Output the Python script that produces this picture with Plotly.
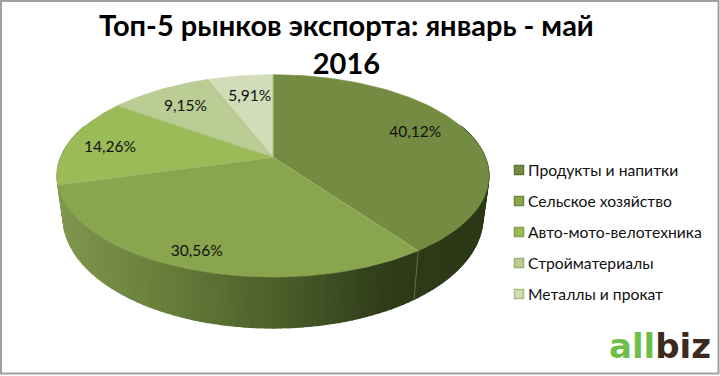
import math
import plotly.graph_objects as go

# ---- data ----
categories = ["Продукты и напитки", "Сельское хозяйство", "Авто-мото-велотехника", "Стройматериалы", "Металлы и прокат"]
values = [40.12, 30.56, 14.26, 9.15, 5.91]
value_labels = ["40,12%", "30,56%", "14,26%", "9,15%", "5,91%"]
title_text = "<b>Топ-5 рынков экспорта: январь - май<br>2016</b>"

# ---- style / layout ----
colors = ["#748c41", "#89a54e", "#9bbb59", "#bbcd95", "#d2dcb9"]
legend_edge = ["#5f7434", "#728a3f", "#84a048", "#9db571", "#a9bd80"]
label_nudge = [(6, -4), (-20, 21), (-20, 3), (-5, -1), (1, 0)]
CX, CY, A, B, K = 273, 157.3, 212.3, 97.75, 0.1834
BCY, BA, BB = 197, 206.4, 107
WALL_STOPS = [(60, (126, 150, 78)), (150, (106, 129, 60)), (280, (74, 94, 42)), (395, (46, 58, 24)), (490, (44, 55, 22))]
FONT = "Lato"


def top(theta, r=1.0):
    w = 1 + K * r * math.cos(theta)
    return CX + A * r * math.sin(theta) / w, CY - B * r * math.cos(theta) / w


def bot(theta):
    w = 1 + K * math.cos(theta)
    return CX + BA * math.sin(theta) / w, BCY - BB * math.cos(theta) / w


def wall_color(x):
    for (x0, c0), (x1, c1) in zip(WALL_STOPS, WALL_STOPS[1:]):
        if x <= x1:
            t = max(0.0, (x - x0) / (x1 - x0))
            return "rgb(%d,%d,%d)" % tuple(round(a + (b - a) * t) for a, b in zip(c0, c1))
    return "rgb(%d,%d,%d)" % WALL_STOPS[-1][1]


fig = go.Figure()
total = sum(values)
edges = [0.0]
for v in values:
    edges.append(edges[-1] + v / total * 2 * math.pi)

# side wall, as narrow quads shaded left-to-right
n = 130
start, end = math.radians(70), math.radians(290)
for i in range(n):
    t0 = start + (end - start) * i / n
    t1 = start + (end - start) * (i + 1) / n
    p0, p1, q1, q0 = top(t0), top(t1), bot(t1), bot(t0)
    c = wall_color((p0[0] + p1[0]) / 2)
    fig.add_trace(go.Scatter(x=[p0[0], p1[0], q1[0], q0[0], p0[0]], y=[p0[1], p1[1], q1[1], q0[1], p0[1]],
                             mode="lines", fill="toself", fillcolor=c, line=dict(color=c, width=1.2),
                             hoverinfo="skip", showlegend=False))

# seam on the wall between first two slices
s0, s1 = top(edges[1]), bot(edges[1])
fig.add_trace(go.Scatter(x=[s0[0], s1[0]], y=[s0[1], s1[1]], mode="lines",
                         line=dict(color="#5f7834", width=1), hoverinfo="skip", showlegend=False))

# top face slices
for i, name in enumerate(categories):
    steps = max(8, int((edges[i + 1] - edges[i]) / 0.02))
    pts = [(CX, CY)] + [top(edges[i] + (edges[i + 1] - edges[i]) * j / steps) for j in range(steps + 1)] + [(CX, CY)]
    fig.add_trace(go.Scatter(x=[p[0] for p in pts], y=[p[1] for p in pts], mode="lines", fill="toself",
                             fillcolor=colors[i], line=dict(color=colors[i], width=0.6), name=name,
                             hoverinfo="skip", showlegend=False))

# radial separators between slices
for e in edges[:-1]:
    p = top(e)
    fig.add_trace(go.Scatter(x=[CX, p[0]], y=[CY, p[1]], mode="lines",
                             line=dict(color="#a3ba72", width=0.7), hoverinfo="skip", showlegend=False))

# slice value labels
lx, ly = [], []
for i in range(len(values)):
    x, y = top((edges[i] + edges[i + 1]) / 2, 0.7)
    lx.append(x + label_nudge[i][0])
    ly.append(y + label_nudge[i][1])
fig.add_trace(go.Scatter(x=lx, y=ly, mode="text", text=value_labels, textposition="middle center",
                         textfont=dict(family=FONT, size=15.5, color="#111111"), hoverinfo="skip", showlegend=False))

# legend
LEG_X, LEG_Y, LEG_DY = 519, 170, 31
fig.add_trace(go.Scatter(x=[LEG_X] * 5, y=[LEG_Y + LEG_DY * i for i in range(5)], mode="markers",
                         marker=dict(symbol="square", size=9, color=colors, line=dict(color=legend_edge, width=1.5)),
                         hoverinfo="skip", showlegend=False))
annotations = [dict(x=525.5, y=LEG_Y + LEG_DY * i, text=c, showarrow=False, xanchor="left", yanchor="middle",
                    xref="x", yref="y", font=dict(family=FONT, size=15.7, color="#111111"))
               for i, c in enumerate(categories)]

# title and logo
annotations.append(dict(x=346, y=43, text=title_text, showarrow=False, xref="x", yref="y", align="center",
                        xanchor="center", yanchor="middle", font=dict(family=FONT, size=29, color="#000000")))
annotations.append(dict(x=660, y=346, text="<span style='color:#6cc04a'>all</span><span style='color:#3b2a1d'>biz</span>",
                        showarrow=False, xref="x", yref="y", xanchor="center", yanchor="middle",
                        font=dict(family="DejaVu Sans", size=34, weight="bold")))

fig.update_layout(
    width=720, height=376, margin=dict(l=0, r=0, t=0, b=0), paper_bgcolor="white", plot_bgcolor="white",
    xaxis=dict(range=[0, 720], visible=False, fixedrange=True),
    yaxis=dict(range=[376, 0], visible=False, fixedrange=True),
    annotations=annotations, showlegend=False,
    shapes=[dict(type="rect", xref="x", yref="y", x0=1, y0=1, x1=718.5, y1=373.5,
                 line=dict(color="#a0a0a0", width=2), fillcolor="rgba(0,0,0,0)", layer="above")],
)
fig.write_html("out.html", config={"displayModeBar": False},
               post_script="document.body.style.margin='0';")
